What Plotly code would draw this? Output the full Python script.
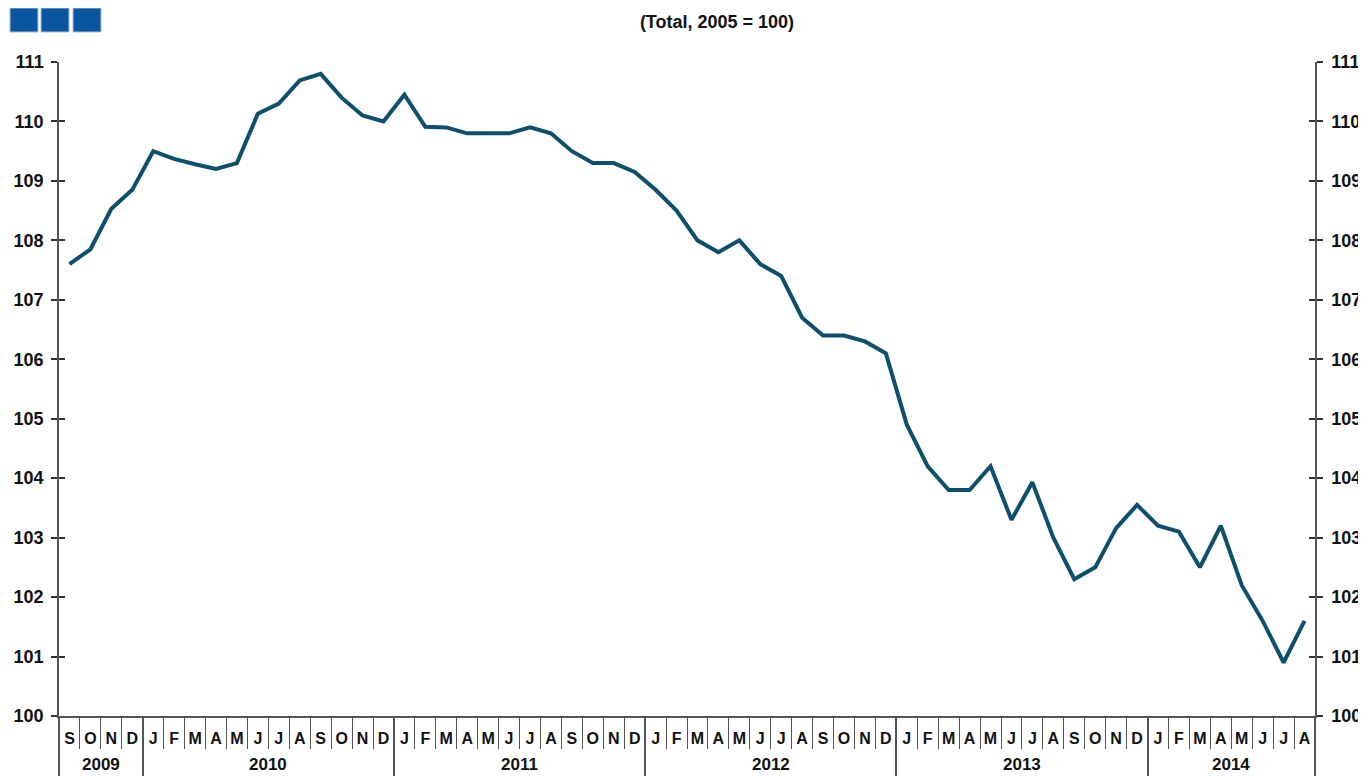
import plotly.graph_objects as go

months = ["S", "O", "N", "D",
          "J", "F", "M", "A", "M", "J", "J", "A", "S", "O", "N", "D",
          "J", "F", "M", "A", "M", "J", "J", "A", "S", "O", "N", "D",
          "J", "F", "M", "A", "M", "J", "J", "A", "S", "O", "N", "D",
          "J", "F", "M", "A", "M", "J", "J", "A", "S", "O", "N", "D",
          "J", "F", "M", "A", "M", "J", "J", "A"]
years = ["2009", "2010", "2011", "2012", "2013", "2014"]
months_per_year = [4, 12, 12, 12, 12, 8]
values = [107.6, 107.85, 108.53, 108.85,
          109.5, 109.37, 109.28, 109.2, 109.3, 110.13, 110.3, 110.69, 110.8, 110.4, 110.1, 110.0,
          110.45, 109.91, 109.9, 109.8, 109.8, 109.8, 109.9, 109.8, 109.5, 109.3, 109.3, 109.15,
          108.85, 108.5, 108.0, 107.8, 108.0, 107.6, 107.4, 106.7, 106.4, 106.4, 106.3, 106.1,
          104.9, 104.2, 103.8, 103.8, 104.2, 103.3, 103.93, 103.0, 102.3, 102.5, 103.16, 103.55,
          103.2, 103.1, 102.5, 103.2, 102.2, 101.6, 100.9, 101.6]
title_text = "(Total, 2005 = 100)"
y_ticks = list(range(100, 112))

n = len(months)
idx = list(range(n))
xr = [-0.5, n - 0.5]
yr = [100, 111]

year_bounds = [-0.5]
for c in months_per_year:
    year_bounds.append(year_bounds[-1] + c)
month_bounds = [i + 0.5 for i in range(-1, n) if (i + 0.5) not in year_bounds]
year_centers = [(year_bounds[i] + year_bounds[i + 1]) / 2 for i in range(len(years))]

# page has an 8px body margin -> figure is offset by (8, 8)
OFF = 8
W, H = 1366 - OFF, 776 - OFF
PL, PR, PT, PB = 59 - OFF, 1315 - OFF, 62 - OFF, 716 - OFF  # plot area in figure px
PW, PH = PR - PL, PB - PT

FONT = "Liberation Sans, Arial, sans-serif"
LINE_GREY = "#555555"
yfont = dict(family=FONT, size=18, color="#111111", weight="bold")
mfont = dict(family=FONT, size=16, color="#111111", weight="bold")
yrfont = dict(family=FONT, size=17, color="#111111", weight="bold")

fig = go.Figure()
fig.add_trace(go.Scatter(x=idx, y=values, mode="lines",
                         line=dict(color="#0e4f6e", width=4), xaxis="x", yaxis="y",
                         showlegend=False, hoverinfo="x+y"))
for xa, ya in [("x2", "y"), ("x3", "y"), ("x", "y2"), ("x", "y3"), ("x", "y4")]:
    fig.add_trace(go.Scatter(x=[None], y=[None], xaxis=xa, yaxis=ya, showlegend=False,
                             hoverinfo="skip"))

fig.update_layout(
    width=W, height=H,
    margin=dict(l=PL, r=W - PR, t=PT, b=H - PB, autoexpand=False),
    paper_bgcolor="white", plot_bgcolor="white",
    showlegend=False,
    title=dict(text=title_text, x=(717 - OFF) / W, xanchor="center", xref="container",
               y=1 - (22 - OFF) / H, yanchor="middle", yref="container",
               font=dict(family=FONT, size=18, color="#111111", weight="bold")),
    xaxis=dict(range=xr, tickmode="array", tickvals=idx, ticktext=months,
               ticks="", showgrid=False, zeroline=False, showline=True,
               linecolor=LINE_GREY, linewidth=1.5, tickfont=mfont,
               ticklabelstandoff=7, anchor="y", automargin=False),
    xaxis2=dict(range=xr, overlaying="x", anchor="y", side="bottom",
                tickmode="array", tickvals=month_bounds, ticks="outside", ticklen=32,
                tickcolor=LINE_GREY, tickwidth=1, showticklabels=False,
                showgrid=False, zeroline=False, showline=False, automargin=False),
    xaxis3=dict(range=xr, overlaying="x", anchor="y", side="bottom",
                tickmode="array", tickvals=year_bounds, ticks="outside", ticklen=70,
                tickcolor=LINE_GREY, tickwidth=1.5, showticklabels=False,
                showgrid=False, zeroline=False, showline=False, automargin=False),
    yaxis=dict(range=yr, tickmode="array", tickvals=y_ticks, ticks="outside", ticklen=6,
               tickcolor="#333333", tickwidth=1.5, showgrid=False, zeroline=False,
               showline=True, linecolor=LINE_GREY, linewidth=1.5, tickfont=yfont,
               ticklabelstandoff=4, side="left", anchor="x", automargin=False),
    yaxis2=dict(range=yr, overlaying="y", side="right", anchor="x", tickmode="array",
                tickvals=y_ticks, ticks="outside", ticklen=6, tickcolor="#333333",
                tickwidth=1.5, showgrid=False, zeroline=False, showline=True,
                linecolor=LINE_GREY, linewidth=1.5, tickfont=yfont,
                ticklabelstandoff=5, automargin=False),
    yaxis3=dict(range=yr, overlaying="y", side="left", anchor="x", tickmode="array",
                tickvals=y_ticks, ticks="inside", ticklen=6, tickcolor="#333333",
                tickwidth=1.5, showticklabels=False, showgrid=False, zeroline=False,
                showline=False, automargin=False),
    yaxis4=dict(range=yr, overlaying="y", side="right", anchor="x", tickmode="array",
                tickvals=y_ticks, ticks="inside", ticklen=6, tickcolor="#333333",
                tickwidth=1.5, showticklabels=False, showgrid=False, zeroline=False,
                showline=False, automargin=False),
)

for yc, yl in zip(year_centers, years):
    fig.add_annotation(x=yc, xref="x", y=(716 - 764) / PH, yref="paper",
                       text=yl, showarrow=False, yanchor="middle", xanchor="center",
                       font=yrfont)

for x0, x1 in [(10, 38), (41, 69), (73, 101)]:
    fig.add_shape(type="rect", xref="paper", yref="paper",
                  x0=(x0 - 59) / PW, x1=(x1 - 59) / PW,
                  y0=(716 - 32) / PH, y1=(716 - 8) / PH,
                  fillcolor="#0a56a0", line=dict(color="#aac0d8", width=1))

fig.write_html("out.html")
